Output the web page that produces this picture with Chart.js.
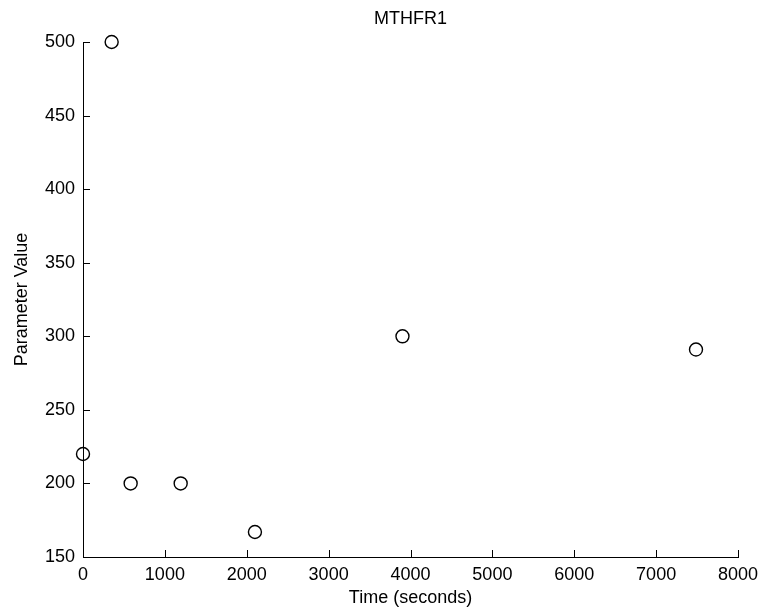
<!DOCTYPE html>
<html>
<head>
<meta charset="utf-8">
<script src="https://cdn.jsdelivr.net/npm/chart.js@4/dist/chart.umd.min.js"></script>
<style>
  html, body { margin: 0; padding: 0; background: #fff; }
  #wrap { width: 760px; height: 611px; }
</style>
</head>
<body>
<div id="wrap"><canvas id="chart" width="760" height="611"></canvas></div>
<script>
const chartTitle = 'MTHFR1';
const timeSeconds = [0, 350, 582, 1193, 2100, 3902, 7487];
const paramValues = [220, 500, 200, 200, 167, 300, 291];
const xTicks = [0, 1000, 2000, 3000, 4000, 5000, 6000, 7000, 8000];
const yTicks = [150, 200, 250, 300, 350, 400, 450, 500];

const FONT = '"Liberation Sans", Arial, sans-serif';

// ticks pointing into the plot, plus title over the plot area
const matlabAxes = {
  id: 'matlabAxes',
  afterDraw(chart) {
    const c = chart.ctx;
    const a = chart.chartArea;
    const xs = chart.scales.x, ys = chart.scales.y;
    c.save();
    c.strokeStyle = '#000';
    c.lineWidth = 1;
    c.beginPath();
    xTicks.forEach(v => {
      const px = Math.round(xs.getPixelForValue(v)) + 0.5;
      c.moveTo(px, a.bottom);
      c.lineTo(px, a.bottom - 7);
    });
    yTicks.forEach(v => {
      const py = Math.round(ys.getPixelForValue(v)) + 0.5;
      c.moveTo(a.left, py);
      c.lineTo(a.left + 7, py);
    });
    c.stroke();
    c.fillStyle = '#000';
    c.font = '18px ' + FONT;
    c.textAlign = 'center';
    c.textBaseline = 'middle';
    c.fillText(chartTitle, (a.left + a.right) / 2, 19);
    c.restore();
  }
};

new Chart(document.getElementById('chart'), {
  type: 'scatter',
  data: {
    datasets: [{
      data: timeSeconds.map((t, i) => ({ x: t, y: paramValues[i] })),
      pointStyle: 'circle',
      pointRadius: 6.5,
      pointHoverRadius: 6.5,
      borderColor: '#000',
      backgroundColor: 'rgba(0,0,0,0)',
      borderWidth: 1.4,
      clip: false
    }]
  },
  options: {
    responsive: false,
    animation: false,
    layout: { padding: { left: 0, right: 22, top: 42, bottom: 0 } },
    plugins: {
      legend: { display: false },
      tooltip: { enabled: false }
    },
    scales: {
      x: {
        type: 'linear',
        min: 0,
        max: 8000,
        afterBuildTicks: s => { s.ticks = xTicks.map(v => ({ value: v })); },
        afterFit: s => { s.height = 54; s.paddingLeft = 0; s.paddingRight = 0; },
        grid: { display: true, drawOnChartArea: false, drawTicks: false, color: 'rgba(0,0,0,0)' },
        border: { display: true, color: '#000', width: 1 },
        ticks: { color: '#000', font: { family: FONT, size: 18 }, padding: 7, maxRotation: 0, callback: v => String(v) },
        title: { display: true, text: 'Time (seconds)', color: '#000', font: { family: FONT, size: 18 }, padding: { top: 0, bottom: 2 } }
      },
      y: {
        type: 'linear',
        min: 150,
        max: 500,
        afterBuildTicks: s => { s.ticks = yTicks.map(v => ({ value: v })); },
        afterFit: s => { s.width = 83; s.paddingTop = 0; s.paddingBottom = 0; },
        grid: { display: true, drawOnChartArea: false, drawTicks: false, color: 'rgba(0,0,0,0)' },
        border: { display: true, color: '#000', width: 1 },
        ticks: { color: '#000', font: { family: FONT, size: 18 }, padding: 8, callback: v => String(v) },
        title: { display: true, text: 'Parameter Value', color: '#000', font: { family: FONT, size: 18 }, padding: { top: 11, bottom: 0 } }
      }
    }
  },
  plugins: [matlabAxes]
});
</script>
</body>
</html>
